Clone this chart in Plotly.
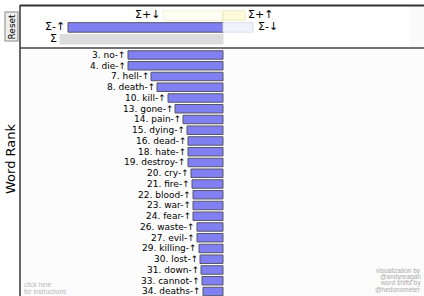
import plotly.graph_objects as go

# ---- data ----
words = ["no", "die", "hell", "death", "kill", "gone", "pain", "dying", "dead", "hate",
         "destroy", "cry", "fire", "blood", "war", "fear", "waste", "evil", "killing",
         "lost", "down", "cannot", "deaths"]
ranks = [3, 4, 7, 8, 10, 13, 14, 15, 16, 18, 19, 20, 21, 22, 23, 24, 26, 27, 29, 30,
         31, 33, 34]
shifts = [-0.95, -0.95, -0.72, -0.66, -0.55, -0.48, -0.40, -0.36, -0.35, -0.35, -0.35,
          -0.32, -0.31, -0.30, -0.30, -0.30, -0.26, -0.26, -0.24, -0.23, -0.22, -0.21,
          -0.20]
word_arrows = ["-↑"] * len(words)

summary_labels = ["Σ+↓", "Σ+↑", "Σ-↑", "Σ-↓", "Σ"]
summary_values = [-0.60, 0.22, -1.55, 0.30, -1.63]
summary_rows = [0, 0, 1, 1, 2]
summary_fill = ["#fefef2", "#fdfbdc", "#8080f2", "#f2f2fd", "#dcdcdc"]
summary_line = ["#f0f0d8", "#eeeac0", "#555566", "#dcdcf0", "#dcdcdc"]

W, H = 424, 296
def px(x):
    return x / W
def py(y):
    return 1 - y / H

fig = go.Figure()

idx = list(range(len(words)))
fig.add_trace(go.Bar(
    x=shifts, y=idx, orientation="h", width=0.79,
    marker=dict(color="#8080f2", line=dict(color="#555566", width=1)),
    xaxis="x", yaxis="y", hoverinfo="skip", showlegend=False,
))

for lab, val, row, fc, lc in zip(summary_labels, summary_values, summary_rows,
                                 summary_fill, summary_line):
    fig.add_trace(go.Bar(
        x=[val], y=[row], orientation="h", width=0.8,
        marker=dict(color=fc, line=dict(color=lc, width=1)),
        xaxis="x", yaxis="y2", hoverinfo="skip", showlegend=False,
    ))

annotations = []
for i, (w, r, s, a) in enumerate(zip(words, ranks, shifts, word_arrows)):
    annotations.append(dict(
        x=s, y=i, xref="x", yref="y", text=f"{r}. {w}{a}", showarrow=False,
        xanchor="right", yanchor="middle", xshift=0,
        font=dict(family="DejaVu Sans", size=9, color="#000"),
    ))

for lab, val, row in zip(summary_labels, summary_values, summary_rows):
    right = val < 0
    annotations.append(dict(
        x=val, y=row, xref="x", yref="y2", text=lab, showarrow=False,
        xanchor="right" if right else "left", yanchor="middle",
        xshift=-1 if right else (3 if lab == "Σ-↓" else 1), yshift=1,
        font=dict(family="DejaVu Sans", size=11, color="#000"),
    ))

annotations.append(dict(
    x=px(11.5), y=py(27), xref="paper", yref="paper", text="Reset", textangle=-90,
    showarrow=False, xanchor="center", yanchor="middle",
    font=dict(family="DejaVu Sans", size=9, color="#000"),
    bgcolor="#eeeeee", bordercolor="#888888", borderwidth=1, borderpad=1,
))
annotations.append(dict(
    x=px(10), y=py(159), xref="paper", yref="paper", text="Word Rank", textangle=-90,
    showarrow=False, xanchor="center", yanchor="middle",
    font=dict(family="DejaVu Sans", size=13, color="#000"),
))

for t, yy in [("click here", 284), ("for instructions", 291.5)]:
    annotations.append(dict(
        x=px(22), y=py(yy), xref="paper", yref="paper", text=t, showarrow=False,
        xanchor="left", yanchor="middle",
        font=dict(family="Liberation Sans", size=6.5, color="#b8b8b8"),
    ))
for t, yy in [("visualization by", 271), ("@andyreagan", 277),
              ("word shifts by", 283), ("@hedonometer", 289)]:
    annotations.append(dict(
        x=px(423), y=py(yy), xref="paper", yref="paper", text=t, showarrow=False,
        xanchor="right", yanchor="middle",
        font=dict(family="Liberation Sans", size=6.5, color="#aaaaaa"),
    ))

shapes = [
    dict(type="rect", xref="paper", yref="paper", x0=px(20), x1=1, y0=0, y1=py(48),
         fillcolor="#fcfcfc", line=dict(width=0), layer="below"),
    dict(type="rect", xref="paper", yref="paper", x0=px(410), x1=1, y0=py(48), y1=py(6),
         fillcolor="#fafafa", line=dict(width=0), layer="below"),
    dict(type="line", xref="paper", yref="paper", x0=px(20), x1=1, y0=py(5.5), y1=py(5.5),
         line=dict(color="#333333", width=2)),
    dict(type="line", xref="paper", yref="paper", x0=px(20), x1=1, y0=py(48), y1=py(48),
         line=dict(color="#444444", width=1.5)),
    dict(type="line", xref="paper", yref="paper", x0=px(20), x1=px(20), y0=0, y1=py(5),
         line=dict(color="#333333", width=1.5)),
]

fig.update_layout(
    width=W, height=H,
    margin=dict(l=0, r=0, t=0, b=0, pad=0),
    paper_bgcolor="#ffffff", plot_bgcolor="rgba(0,0,0,0)",
    barmode="overlay",
    xaxis=dict(domain=[px(20), 1], range=[-2.03, 2.01], showgrid=False, zeroline=False,
               showticklabels=False, ticks="", fixedrange=True),
    yaxis=dict(domain=[0, py(48)], range=[22.42, -0.65], showgrid=False, zeroline=False,
               showticklabels=False, ticks="", anchor="x", fixedrange=True),
    yaxis2=dict(domain=[py(47), py(6)], range=[2.645, -0.8], showgrid=False,
                zeroline=False, showticklabels=False, ticks="", anchor="x",
                fixedrange=True),
    annotations=annotations,
    shapes=shapes,
)

fig.write_html(
    "out.html",
    config={"displayModeBar": False},
    post_script="document.body.style.margin='0';document.body.style.overflow='hidden';",
)
